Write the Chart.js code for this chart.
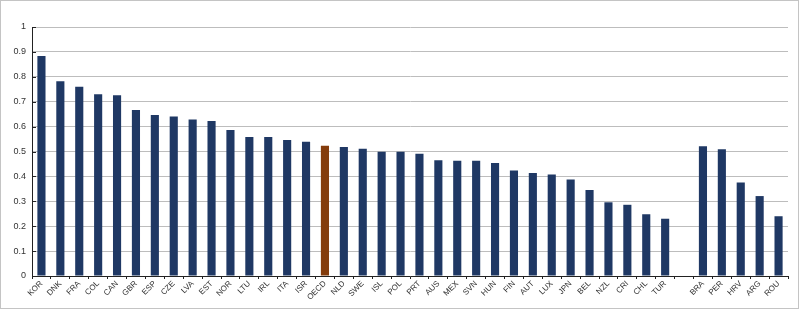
<!DOCTYPE html>
<html>
<head>
<meta charset="utf-8">
<script src="https://cdn.jsdelivr.net/npm/chart.js@4/dist/chart.umd.min.js"></script>
<style>
  html, body { margin: 0; padding: 0; background: #ffffff; }
  #wrap { width: 800px; height: 310px; position: relative; }
</style>
</head>
<body>
<div id="wrap"><canvas id="c" width="800" height="310"></canvas></div>
<script>
const categories = ["KOR","DNK","FRA","COL","CAN","GBR","ESP","CZE","LVA","EST","NOR","LTU","IRL","ITA","ISR","OECD","NLD","SWE","ISL","POL","PRT","AUS","MEX","SVN","HUN","FIN","AUT","LUX","JPN","BEL","NZL","CRI","CHL","TUR","","BRA","PER","HRV","ARG","ROU"];
const values = [0.884,0.782,0.760,0.730,0.726,0.667,0.647,0.641,0.629,0.622,0.586,0.558,0.558,0.546,0.539,0.523,0.518,0.511,0.499,0.499,0.491,0.465,0.463,0.463,0.454,0.424,0.414,0.408,0.388,0.345,0.296,0.286,0.248,0.230,null,0.521,0.509,0.376,0.321,0.240];
const yTicks = [0,0.1,0.2,0.3,0.4,0.5,0.6,0.7,0.8,0.9,1];
const highlight = "OECD";

const navy = "#1f3864";
const brown = "#843c0c";
const barColors = categories.map(c => c === highlight ? brown : navy);

const framePlugin = {
  id: 'frame',
  afterDraw(chart) {
    const ctx = chart.ctx;
    ctx.save();
    ctx.strokeStyle = '#c4c4c4';
    ctx.lineWidth = 1;
    ctx.strokeRect(0.5, 0.5, chart.width - 2, chart.height - 2);
    ctx.restore();
  },
  afterDatasetsDraw(chart) {
    const ctx = chart.ctx;
    const y = chart.scales.y;
    const left = chart.chartArea.left;
    ctx.save();
    ctx.strokeStyle = '#222';
    ctx.lineWidth = 1;
    yTicks.forEach(v => {
      const py = Math.round(y.getPixelForValue(v)) + 0.5;
      ctx.beginPath();
      ctx.moveTo(left, py);
      ctx.lineTo(left + 4, py);
      ctx.stroke();
    });
    ctx.restore();
  }
};

new Chart(document.getElementById('c'), {
  type: 'bar',
  data: {
    labels: categories,
    datasets: [{
      data: values,
      backgroundColor: barColors,
      borderWidth: 0,
      categoryPercentage: 1,
      barPercentage: 0.43
    }]
  },
  options: {
    responsive: false,
    animation: false,
    devicePixelRatio: 1,
    layout: { padding: { left: 0, right: 12, top: 27, bottom: 0 } },
    plugins: { legend: { display: false }, tooltip: { enabled: false } },
    scales: {
      x: {
        offset: true,
        grid: {
          offset: true,
          drawOnChartArea: false,
          drawTicks: true,
          tickLength: 3,
          tickColor: '#222'
        },
        border: { display: true, color: '#222', width: 1 },
        ticks: {
          autoSkip: false,
          minRotation: 45,
          maxRotation: 45,
          padding: 0,
          color: '#333',
          font: { family: 'Liberation Sans, Arial, sans-serif', size: 8 }
        },
        afterFit(scale) { scale.height = 34; }
      },
      y: {
        min: 0,
        max: 1,
        afterBuildTicks(scale) { scale.ticks = yTicks.map(v => ({ value: v })); },
        grid: {
          color: '#bdbdbd',
          lineWidth: 1,
          drawTicks: false
        },
        border: { display: true, color: '#222', width: 1 },
        ticks: {
          padding: 6,
          color: '#333',
          font: { family: 'Liberation Sans, Arial, sans-serif', size: 9 },
          callback: (v) => String(v)
        },
        afterFit(scale) { scale.width = 32; }
      }
    }
  },
  plugins: [framePlugin]
});
</script>
</body>
</html>
